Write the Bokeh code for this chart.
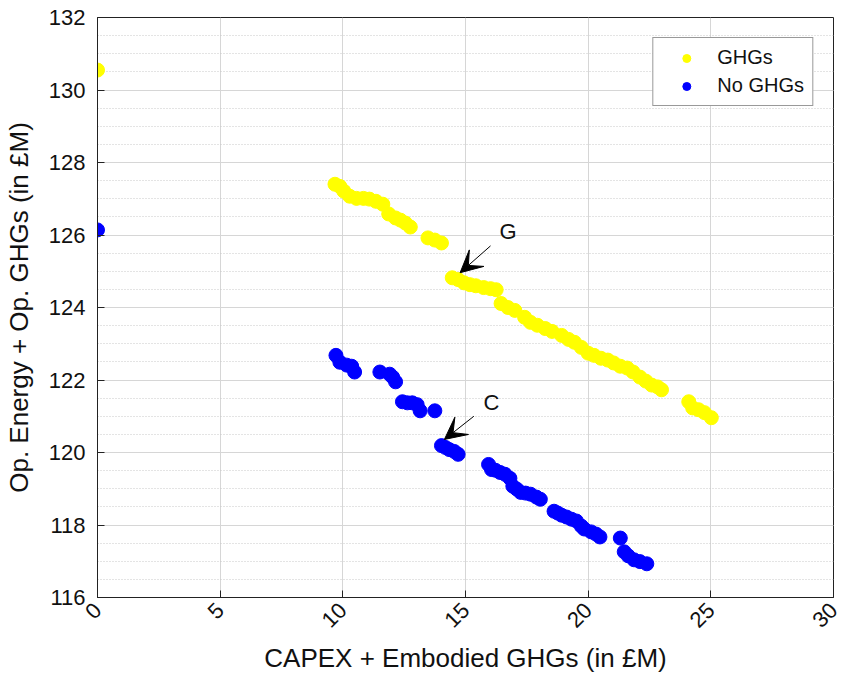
import math
from bokeh.plotting import figure
from bokeh.models import (ColumnDataSource, SingleIntervalTicker, Range1d,
                          Arrow, VeeHead, Label, Legend, LegendItem)
from bokeh.embed import file_html
from bokeh.resources import INLINE

# ---- data ----
ghg_x = [0.0, 9.68, 9.88, 10.04, 10.28, 10.56, 10.84, 11.08, 11.35, 11.63, 11.87, 12.15, 12.35,
         12.55, 12.75, 13.47, 13.75, 14.02, 14.46, 14.70, 14.94, 15.18, 15.42, 15.74, 16.02,
         16.25, 16.45, 16.73, 17.01, 17.41, 17.65, 17.93, 18.25, 18.53, 18.92, 19.20, 19.44,
         19.72, 20.00, 20.24, 20.52, 20.80, 21.04, 21.31, 21.59, 21.83, 22.11, 22.35, 22.59,
         22.83, 22.99, 24.10, 24.26, 24.50, 24.74, 25.02]
ghg_y = [130.55, 127.40, 127.34, 127.21, 127.07, 127.01, 127.01, 126.99, 126.93, 126.85, 126.58,
         126.47, 126.41, 126.33, 126.22, 125.92, 125.86, 125.78, 124.82, 124.77, 124.68, 124.63,
         124.60, 124.55, 124.52, 124.49, 124.11, 124.00, 123.92, 123.73, 123.59, 123.51, 123.42,
         123.34, 123.23, 123.12, 123.04, 122.90, 122.74, 122.68, 122.60, 122.55, 122.47, 122.38,
         122.33, 122.22, 122.08, 121.97, 121.86, 121.81, 121.73, 121.40, 121.23, 121.18, 121.10,
         120.96]

noghg_x = [0.0, 9.72, 9.88, 10.16, 10.36, 10.48, 11.51, 11.91, 12.03, 12.15, 12.43, 12.63, 12.83,
           13.03, 13.15, 13.75, 14.02, 14.18, 14.34, 14.54, 14.70, 15.94, 16.06, 16.22, 16.41,
           16.61, 16.81, 16.93, 17.09, 17.25, 17.45, 17.65, 17.89, 18.05, 18.61, 18.76, 18.92,
           19.12, 19.32, 19.52, 19.72, 19.84, 20.12, 20.32, 20.48, 21.31, 21.47, 21.63, 21.87,
           22.11, 22.39]
noghg_y = [126.14, 122.68, 122.49, 122.41, 122.38, 122.22, 122.22, 122.16, 122.08, 121.95, 121.40,
           121.37, 121.37, 121.32, 121.15, 121.15, 120.19, 120.14, 120.08, 120.03, 119.95, 119.67,
           119.53, 119.51, 119.45, 119.40, 119.29, 119.07, 118.99, 118.90, 118.88, 118.85, 118.77,
           118.71, 118.38, 118.33, 118.27, 118.22, 118.16, 118.11, 117.97, 117.89, 117.81, 117.75,
           117.67, 117.64, 117.26, 117.15, 117.04, 116.99, 116.93]

series_names = ["GHGs", "No GHGs"]
x_ticks_interval = 5
y_ticks_interval = 2

# annotations: label, text position, arrow tail, arrow head
annot_labels = ["G", "C"]
annot_text_x = [16.73, 16.06]
annot_text_y = [126.11, 121.37]
annot_tail_x = [16.02, 15.34]
annot_tail_y = [125.70, 121.00]
annot_head_x = [14.78, 14.14]
annot_head_y = [124.96, 120.36]

FONT = "Liberation Sans"

p = figure(width=845, height=676, output_backend="svg", toolbar_location=None,
           x_range=Range1d(0, 30), y_range=Range1d(116, 132),
           min_border_left=87, min_border_right=12, min_border_top=17, min_border_bottom=76)
p.background_fill_color = "white"
p.border_fill_color = "white"
p.outline_line_color = "#222222"
p.outline_line_width = 1

xt = SingleIntervalTicker(interval=x_ticks_interval, num_minor_ticks=0)
yt = SingleIntervalTicker(interval=y_ticks_interval, num_minor_ticks=4)
p.xaxis.ticker = xt
p.yaxis.ticker = yt
p.xgrid.ticker = xt
p.ygrid.ticker = yt

p.xgrid.grid_line_color = "#d6d6d6"
p.ygrid.grid_line_color = "#d6d6d6"
p.ygrid.minor_grid_line_color = "#c8c8c8"
p.ygrid.minor_grid_line_dash = "1 2"
p.ygrid.minor_grid_line_width = 1

for ax in (p.xaxis[0], p.yaxis[0]):
    ax.axis_line_color = "#222222"
    ax.major_tick_in = 7
    ax.major_tick_out = 0
    ax.major_tick_line_color = "#222222"
    ax.minor_tick_line_color = None
    ax.major_label_text_font = FONT
    ax.major_label_text_font_size = "22px"
    ax.major_label_text_color = "#111111"
    ax.axis_label_text_font = FONT
    ax.axis_label_text_font_size = "26px"
    ax.axis_label_text_font_style = "normal"
    ax.axis_label_text_color = "#111111"

p.xaxis.axis_label = "CAPEX + Embodied GHGs (in £M)"
p.yaxis.axis_label = "Op. Energy + Op. GHGs (in £M)"
p.xaxis.major_label_orientation = math.pi / 4
p.xaxis.major_label_standoff = 9
p.xaxis.axis_label_standoff = 6
p.yaxis.major_label_standoff = 8
p.yaxis.axis_label_standoff = 12

src_g = ColumnDataSource(dict(x=ghg_x, y=ghg_y))
src_n = ColumnDataSource(dict(x=noghg_x, y=noghg_y))
r_g = p.scatter("x", "y", source=src_g, size=14, fill_color="#ffff00", line_color="#ffff00")
r_n = p.scatter("x", "y", source=src_n, size=14, fill_color="#0000ff", line_color="#0000ff")

for i in range(len(annot_labels)):
    p.add_layout(Arrow(end=VeeHead(size=22, fill_color="black", line_color="black"),
                       x_start=annot_tail_x[i], y_start=annot_tail_y[i],
                       x_end=annot_head_x[i], y_end=annot_head_y[i],
                       line_color="black", line_width=1))
    p.add_layout(Label(x=annot_text_x[i], y=annot_text_y[i], text=annot_labels[i],
                       text_font=FONT, text_font_size="22px", text_color="#111111",
                       text_align="center", text_baseline="middle"))

legend = Legend(items=[LegendItem(label=series_names[0], renderers=[r_g]),
                       LegendItem(label=series_names[1], renderers=[r_n])],
                location="top_right")
legend.margin = 20
legend.padding = 8
legend.spacing = 5
legend.glyph_width = 50
legend.label_standoff = 6
legend.label_text_font = FONT
legend.label_text_font_size = "20px"
legend.label_text_color = "#111111"
legend.border_line_color = "#333333"
legend.border_line_width = 1
legend.background_fill_alpha = 1.0
p.add_layout(legend)

open("out.html", "w").write(file_html(p, INLINE))
